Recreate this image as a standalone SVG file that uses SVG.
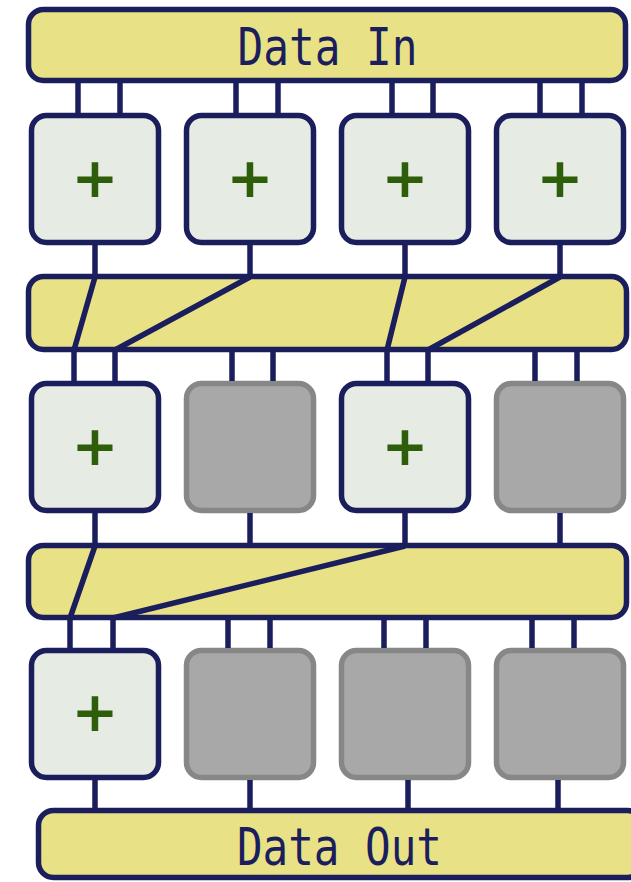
<svg xmlns="http://www.w3.org/2000/svg" width="631" height="882" viewBox="0 0 631 882">
  <style>
    .bar { fill: #e9e186; stroke: #1b1e5c; stroke-width: 5.5; }
    .add { fill: #e6ebe4; stroke: #1b1e5c; stroke-width: 5.5; }
    .idle { fill: #a8a8a8; stroke: #878787; stroke-width: 5.5; }
    .wire { stroke: #1b1e5c; stroke-width: 5.5; fill: none; }
    .label { font-family: "DejaVu Sans Mono", "Liberation Mono", monospace; font-size: 51px; fill: #1b1e5c; }
    .op { font-family: "DejaVu Sans", "Liberation Sans", sans-serif; font-weight: bold; font-size: 56px; fill: #2f5e0b; text-anchor: middle; }
  </style>
  <rect width="631" height="882" fill="#ffffff"/>

  <g id="data-in">
    <rect class="bar" x="28.5" y="9.5" width="597" height="71" rx="15"/>
    <text class="label" x="327.5" y="65" text-anchor="middle" textLength="180" lengthAdjust="spacingAndGlyphs">Data In</text>
  </g>

  <!-- stage 1 -->
  <g id="s1-a"><rect class="add" x="31.5" y="115.5" width="127" height="127" rx="15"/><text class="op" x="95" y="197">+</text></g>
  <g id="s1-b"><rect class="add" x="186.5" y="115.5" width="127" height="127" rx="15"/><text class="op" x="250" y="197">+</text></g>
  <g id="s1-c"><rect class="add" x="341.5" y="115.5" width="127" height="127" rx="15"/><text class="op" x="405" y="197">+</text></g>
  <g id="s1-d"><rect class="add" x="496.5" y="115.5" width="127" height="127" rx="15"/><text class="op" x="560" y="197">+</text></g>

  <g id="shuffle-1"><rect class="bar" x="28.5" y="276.5" width="598" height="73" rx="15"/></g>

  <!-- stage 2 -->
  <g id="s2-a"><rect class="add" x="31.5" y="383.5" width="127" height="127" rx="15"/><text class="op" x="95" y="465">+</text></g>
  <g id="s2-b"><rect class="idle" x="186.5" y="383.5" width="127" height="127" rx="15"/></g>
  <g id="s2-c"><rect class="add" x="341.5" y="383.5" width="127" height="127" rx="15"/><text class="op" x="405" y="465">+</text></g>
  <g id="s2-d"><rect class="idle" x="496.5" y="383.5" width="127" height="127" rx="15"/></g>

  <g id="shuffle-2"><rect class="bar" x="28.5" y="545.5" width="598" height="72" rx="15"/></g>

  <!-- stage 3 -->
  <g id="s3-a"><rect class="add" x="31.5" y="650.5" width="127" height="127" rx="15"/><text class="op" x="95" y="731">+</text></g>
  <g id="s3-b"><rect class="idle" x="186.5" y="650.5" width="127" height="127" rx="15"/></g>
  <g id="s3-c"><rect class="idle" x="341.5" y="650.5" width="127" height="127" rx="15"/></g>
  <g id="s3-d"><rect class="idle" x="496.5" y="650.5" width="127" height="127" rx="15"/></g>

  <g id="data-out">
    <rect class="bar" x="38.5" y="810.5" width="604" height="67" rx="15"/>
    <text class="label" x="339.5" y="865" text-anchor="middle" textLength="205" lengthAdjust="spacingAndGlyphs">Data Out</text>
  </g>

  <!-- wiring between stages, drawn over the shuffle bars -->
  <g id="connectors">
    <!-- input bus to first stage -->
    <path class="wire" d="M78 83V113 M120 83V113 M236 83V113 M278 83V113 M392 83V113 M433 83V113 M540 83V113 M582 83V113"/>
    <!-- first stage outputs -->
    <path class="wire" d="M95 245V277 M250 245V277 M405 245V277 M560 245V277"/>
    <!-- first shuffle -->
    <path class="wire" d="M95 277L74 350 M250 277L115 350 M405 277L387 350 M560 277L428 350"/>
    <path class="wire" d="M74 349V381 M115 349V381 M232 352V381 M273 352V381 M387 349V381 M428 349V381 M535 352V381 M577 352V381"/>
    <!-- second stage outputs -->
    <path class="wire" d="M95 513V546 M250 513V543 M405 513V546 M560 513V543"/>
    <!-- second shuffle -->
    <path class="wire" d="M95 546L70 618 M405 546L113 618"/>
    <path class="wire" d="M70 617V648 M113 617V648 M228 620V648 M270 620V648 M384 620V648 M426 620V648 M532 620V648 M574 620V648"/>
    <!-- third stage to output bus -->
    <path class="wire" d="M95 780V808 M250 780V808 M408 780V808 M558 780V808"/>
  </g>
</svg>
